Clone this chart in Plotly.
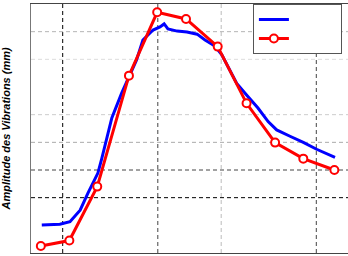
import plotly.graph_objects as go

# Measured series
blue_x = [0.34, 0.91, 1.23, 1.55, 1.80, 2.11, 2.23, 2.40, 2.55, 2.86, 3.12, 3.33, 3.53, 3.85, 4.07, 4.20,
          4.32, 4.61, 4.92, 5.24, 5.49, 5.80, 6.02, 6.49, 6.80, 7.16, 7.48, 7.75, 8.17, 8.59, 9.01, 9.59]
blue_y = [1.01, 1.04, 1.13, 1.55, 2.17, 2.89, 3.40, 4.20, 4.88, 5.78, 6.43, 6.98, 7.70, 8.06, 8.17, 8.28,
          8.10, 8.02, 7.99, 7.91, 7.70, 7.48, 7.16, 6.13, 5.71, 5.24, 4.75, 4.45, 4.22, 4.00, 3.75, 3.46]

red_x = [0.31, 1.21, 2.09, 3.09, 3.98, 4.89, 5.89, 6.80, 7.70, 8.59, 9.57]
red_y = [0.25, 0.45, 2.40, 6.41, 8.70, 8.46, 7.46, 5.41, 3.99, 3.41, 3.00]

# Grid lines (value, colour)
x_grid = [(1, "#000000"), (4, "#444444"), (6, "#bbbbbb"), (9, "#444444")]
y_grid = [(8, "#b5b5b5"), (7, "#dddddd"), (5, "#cccccc"), (4, "#aaaaaa"), (3, "#444444"), (2, "#000000")]

y_title = "Amplitude des Vibrations (mm)"
legend_names = ["\u00a0" * 20, "\u00a0" * 20]

fig = go.Figure()
fig.add_trace(go.Scatter(x=blue_x, y=blue_y, mode="lines", name=legend_names[0],
                         line=dict(color="#0000ff", width=3)))
fig.add_trace(go.Scatter(x=red_x, y=red_y, mode="lines+markers", name=legend_names[1],
                         line=dict(color="#ff0000", width=3),
                         marker=dict(symbol="circle", size=8, color="white",
                                     line=dict(color="#ff0000", width=2))))

shapes = []
for v, c in x_grid:
    shapes.append(dict(type="line", xref="x", yref="paper", x0=v, x1=v, y0=0, y1=1,
                       line=dict(color=c, width=1, dash="4px,3px"), layer="below"))
for v, c in y_grid:
    shapes.append(dict(type="line", xref="paper", yref="y", x0=0, x1=1, y0=v, y1=v,
                       line=dict(color=c, width=1, dash="4px,3px"), layer="below"))

fig.update_layout(
    width=348, height=256,
    margin=dict(l=31, r=0, t=4, b=3),
    plot_bgcolor="white", paper_bgcolor="white",
    shapes=shapes,
    showlegend=True,
    legend=dict(x=0.70, y=1, xanchor="left", yanchor="top",
                bgcolor="white", bordercolor="#555555", borderwidth=1,
                font=dict(size=8), tracegroupgap=0),
    annotations=[dict(text=y_title, xref="paper", yref="paper",
                      x=-0.082, y=0.5, xanchor="center", yanchor="middle",
                      textangle=-90, showarrow=False,
                      font=dict(family="Liberation Sans", size=11, color="black",
                                weight="bold", style="italic"))],
)
fig.update_xaxes(range=[0, 10], showgrid=False, zeroline=False, showticklabels=False,
                 ticks="", showline=True, linecolor="#444444", linewidth=1, mirror=True)
fig.update_yaxes(range=[0, 9], showgrid=False, zeroline=False, showticklabels=False,
                 ticks="", showline=True, linecolor="#777777", linewidth=1)

fig.write_html("out.html")
